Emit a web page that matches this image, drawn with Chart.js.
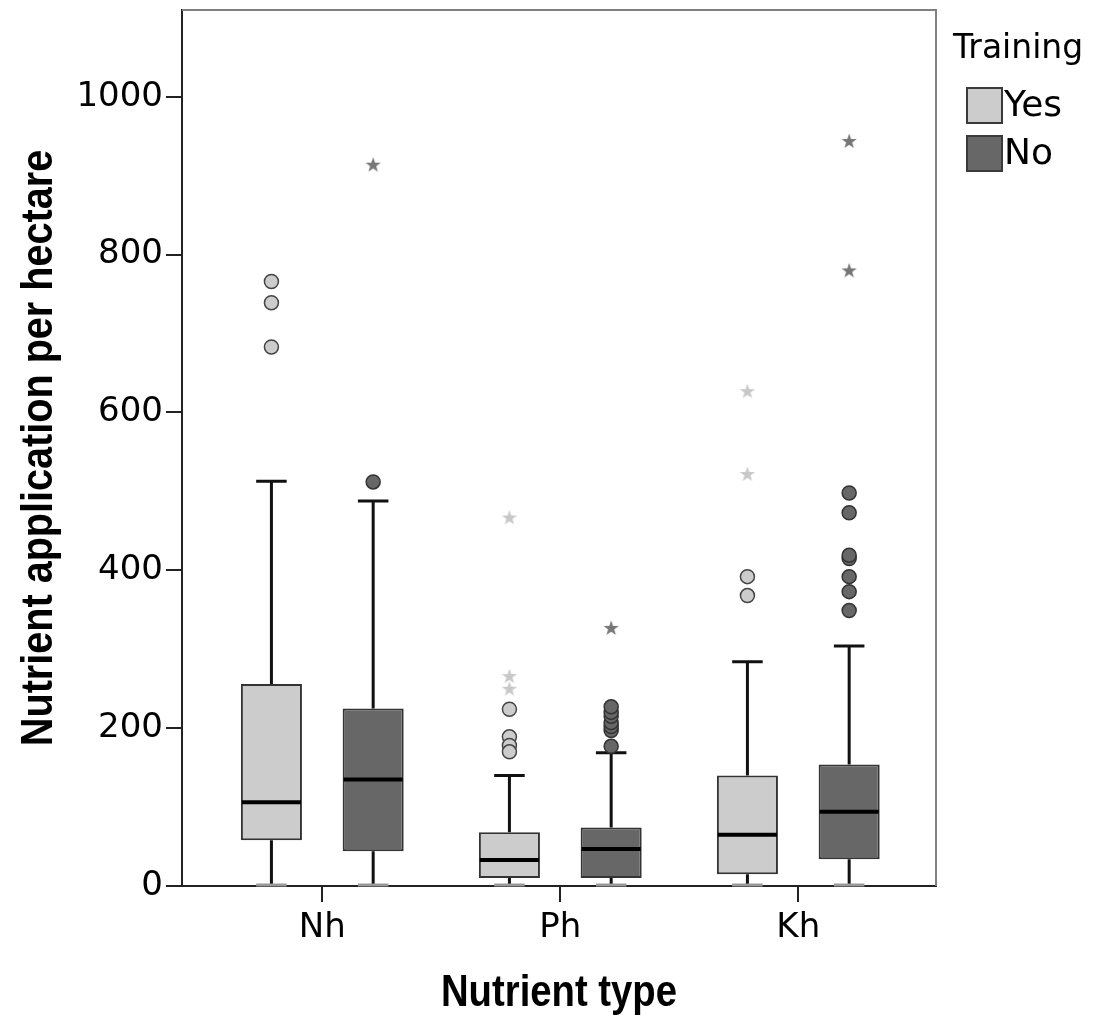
<!DOCTYPE html>
<html>
<head>
<meta charset="utf-8">
<script src="https://cdn.jsdelivr.net/npm/chart.js@4.4.1/dist/chart.umd.min.js"></script>
<style>
  html, body { margin: 0; padding: 0; background: #fff; }
  #wrap { width: 1094px; height: 1015px; }
</style>
</head>
<body>
<div id="wrap"><canvas id="chart"></canvas></div>
<script>
// Values
const categories = ['Nh', 'Ph', 'Kh'];
const groups = ['Yes', 'No'];
const yTicks = [0, 200, 400, 600, 800, 1000];

// Training = Yes
const yesLow = [0, 0, 0];
const yesQ1 = [58, 10, 15];
const yesMedian = [106, 33, 65];
const yesQ3 = [256, 68, 140];
const yesHigh = [513, 140, 284];
const yesOutliers = [[766, 739, 683], [224, 189, 178, 170], [392, 368]];
const yesExtremes = [[], [467, 266, 250], [627, 522]];

// Training = No
const noLow = [0, 0, 0];
const noQ1 = [44, 10, 34];
const noMedian = [135, 47, 94];
const noQ3 = [225, 74, 154];
const noHigh = [488, 169, 304];
const noOutliers = [[512], [177, 197, 202, 207, 215, 220, 227], [349, 373, 392, 415, 419, 473, 498]];
const noExtremes = [[914], [327], [944, 780]];

const yesFill = '#cccccc';
const noFill = '#676767';
const catPct = 0.855;
const barPct = 0.6;
const shift = catPct / 4;   // centre of each box inside its category

const tickFont = { family: '"DejaVu Sans", Arial, sans-serif', size: 34 };
const titleFont = '"Liberation Sans", Arial, sans-serif';

// small 5-point star for extreme values
function starImage(color) {
  const c = document.createElement('canvas');
  c.width = 18; c.height = 18;
  const g = c.getContext('2d');
  g.fillStyle = color;
  g.beginPath();
  for (let k = 0; k < 10; k++) {
    const r = k % 2 === 0 ? 8 : 3.2;
    const a = -Math.PI / 2 + k * Math.PI / 5;
    const px = 9 + r * Math.cos(a), py = 9.5 + r * Math.sin(a);
    k === 0 ? g.moveTo(px, py) : g.lineTo(px, py);
  }
  g.closePath();
  g.fill();
  return c;
}

function points(list, side) {
  const out = [];
  list.forEach((vals, i) => vals.forEach(v => out.push({ x: i + 1 + side * shift, y: v })));
  return out;
}

const boxes = [
  { low: yesLow, q1: yesQ1, med: yesMedian, q3: yesQ3, high: yesHigh },
  { low: noLow, q1: noQ1, med: noMedian, q3: noQ3, high: noHigh }
];

const boxParts = {
  id: 'boxParts',
  beforeDatasetsDraw(chart) {
    const ctx = chart.ctx, y = chart.scales.y;
    boxes.forEach((b, d) => {
      chart.getDatasetMeta(d).data.forEach((bar, i) => {
        const cap = bar.width * 0.5;
        const hi = y.getPixelForValue(b.high[i]), lo = y.getPixelForValue(b.low[i]);
        ctx.save();
        ctx.strokeStyle = '#111';
        ctx.lineWidth = 3;
        ctx.beginPath();
        ctx.moveTo(bar.x, hi); ctx.lineTo(bar.x, y.getPixelForValue(b.q3[i]));
        ctx.moveTo(bar.x, y.getPixelForValue(b.q1[i])); ctx.lineTo(bar.x, lo);
        ctx.moveTo(bar.x - cap / 2, hi); ctx.lineTo(bar.x + cap / 2, hi);
        ctx.stroke();
        ctx.strokeStyle = '#999';
        ctx.beginPath();
        ctx.moveTo(bar.x - cap / 2, lo - 1); ctx.lineTo(bar.x + cap / 2, lo - 1);
        ctx.stroke();
        ctx.restore();
      });
    });
  },
  afterDatasetDraw(chart, args) {
    if (args.index > 1) return;
    const ctx = chart.ctx, y = chart.scales.y, b = boxes[args.index];
    args.meta.data.forEach((bar, i) => {
      const py = y.getPixelForValue(b.med[i]);
      ctx.save();
      ctx.strokeStyle = '#000';
      ctx.lineWidth = 4;
      ctx.beginPath();
      ctx.moveTo(bar.x - bar.width / 2 + 1, py);
      ctx.lineTo(bar.x + bar.width / 2 - 1, py);
      ctx.stroke();
      ctx.restore();
    });
  },
  afterDraw(chart) {
    const ctx = chart.ctx, a = chart.chartArea;
    ctx.save();
    // frame top / right
    ctx.strokeStyle = '#808080';
    ctx.lineWidth = 2;
    ctx.beginPath();
    ctx.moveTo(a.left, a.top); ctx.lineTo(a.right, a.top); ctx.lineTo(a.right, a.bottom);
    ctx.stroke();

    // axis titles (bold, condensed)
    ctx.fillStyle = '#000';
    ctx.font = 'bold 44px ' + titleFont;
    ctx.textAlign = 'center';
    ctx.textBaseline = 'alphabetic';
    ctx.save();
    ctx.translate((a.left + a.right) / 2, 1006);
    ctx.scale(0.87, 1);
    ctx.fillText('Nutrient type', 0, 0);
    ctx.restore();
    ctx.save();
    ctx.translate(52, (a.top + a.bottom) / 2);
    ctx.rotate(-Math.PI / 2);
    ctx.scale(0.9, 1);
    ctx.fillText('Nutrient application per hectare', 0, 0);
    ctx.restore();

    // legend
    ctx.textAlign = 'left';
    ctx.font = '33px ' + tickFont.family;
    ctx.fillText('Training', 953, 58);
    ctx.textBaseline = 'middle';
    ctx.font = '36px ' + tickFont.family;
    [yesFill, noFill].forEach((col, k) => {
      const top = 88 + k * 48;
      ctx.fillStyle = col;
      ctx.fillRect(967, top, 35, 35);
      ctx.strokeStyle = '#3a3a3a';
      ctx.lineWidth = 2;
      ctx.strokeRect(967, top, 35, 35);
      ctx.fillStyle = '#000';
      ctx.fillText(groups[k], 1004, top + 19);
    });
    ctx.restore();
  }
};

new Chart(document.getElementById('chart'), {
  data: {
    datasets: [
      {
        type: 'bar', label: groups[0],
        data: categories.map((c, i) => ({ x: i + 1, y: [yesQ1[i], yesQ3[i]] })),
        backgroundColor: yesFill, borderColor: '#333', borderWidth: 2, borderSkipped: false,
        categoryPercentage: catPct, barPercentage: barPct
      },
      {
        type: 'bar', label: groups[1],
        data: categories.map((c, i) => ({ x: i + 1, y: [noQ1[i], noQ3[i]] })),
        backgroundColor: noFill, borderColor: '#333', borderWidth: 2, borderSkipped: false,
        categoryPercentage: catPct, barPercentage: barPct
      },
      {
        type: 'scatter', label: 'Yes outliers', data: points(yesOutliers, -1),
        pointRadius: 7, backgroundColor: yesFill, borderColor: '#444', borderWidth: 1.5
      },
      {
        type: 'scatter', label: 'No outliers', data: points(noOutliers, 1),
        pointRadius: 7, backgroundColor: noFill, borderColor: '#333', borderWidth: 1.5
      },
      {
        type: 'scatter', label: 'Yes extremes', data: points(yesExtremes, -1),
        pointStyle: starImage('#c8c8c8')
      },
      {
        type: 'scatter', label: 'No extremes', data: points(noExtremes, 1),
        pointStyle: starImage('#777777')
      }
    ]
  },
  options: {
    responsive: true,
    maintainAspectRatio: false,
    animation: false,
    layout: { padding: { top: 10, right: 158, bottom: 0, left: 0 } },
    plugins: { legend: { display: false }, tooltip: { enabled: false } },
    scales: {
      x: {
        type: 'linear', min: 0.4105, max: 3.5786, offset: false,
        afterBuildTicks: s => { s.ticks = categories.map((c, i) => ({ value: i + 1 })); },
        afterFit: s => { s.height = 129; s.paddingLeft = 0; s.paddingRight = 0; },
        ticks: {
          autoSkip: false, maxRotation: 0, color: '#000', font: tickFont, padding: 6,
          callback: v => categories[v - 1]
        },
        grid: { offset: false, drawOnChartArea: false, tickLength: 16, color: '#222', lineWidth: 2 },
        border: { color: '#222', width: 2 }
      },
      y: {
        min: 0, max: 1110,
        afterBuildTicks: s => { s.ticks = yTicks.map(v => ({ value: v })); },
        afterFit: s => { s.width = 182; s.paddingTop = 0; s.paddingBottom = 0; },
        ticks: { color: '#000', font: tickFont, padding: 3, callback: v => String(v) },
        grid: { drawOnChartArea: false, tickLength: 16, color: '#222', lineWidth: 2 },
        border: { color: '#222', width: 2 }
      }
    }
  },
  plugins: [boxParts]
});
</script>
</body>
</html>
